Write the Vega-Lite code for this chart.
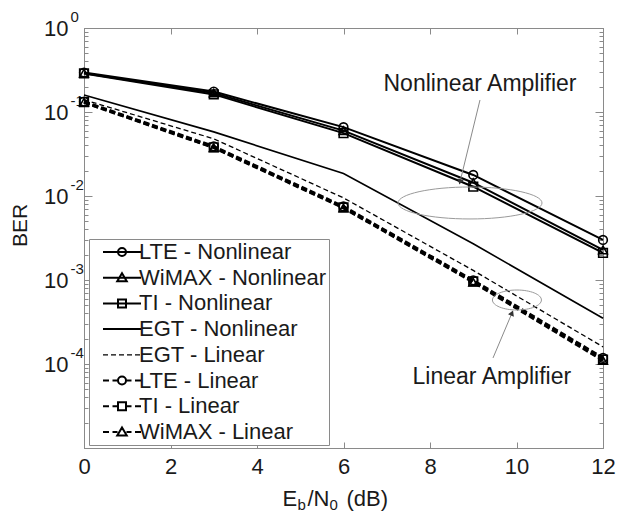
{
  "$schema": "https://vega.github.io/schema/vega-lite/v6.json",
  "width": 519,
  "height": 420,
  "autosize": "none",
  "padding": {"left": 84, "top": 28, "right": 15, "bottom": 64},
  "background": "white",
  "config": {
    "font": "Liberation Sans",
    "view": {"stroke": "#8a8a8a", "strokeWidth": 1},
    "axis": {"grid": false, "domainColor": "#8a8a8a", "tickColor": "#8a8a8a", "labelColor": "#1a1a1a", "titleColor": "#1a1a1a", "labelFont": "Liberation Sans", "titleFont": "Liberation Sans", "titleFontWeight": "normal"}
  },
  "datasets": {
    "curves": [
      {"series": "LTE - Nonlinear", "kind": "nlm", "ebn0": 0, "ber": 0.295},
      {"series": "LTE - Nonlinear", "kind": "nlm", "ebn0": 3, "ber": 0.175},
      {"series": "LTE - Nonlinear", "kind": "nlm", "ebn0": 6, "ber": 0.066},
      {"series": "LTE - Nonlinear", "kind": "nlm", "ebn0": 9, "ber": 0.0178},
      {"series": "LTE - Nonlinear", "kind": "nlm", "ebn0": 12, "ber": 0.0030},
      {"series": "WiMAX - Nonlinear", "kind": "nlm", "ebn0": 0, "ber": 0.29},
      {"series": "WiMAX - Nonlinear", "kind": "nlm", "ebn0": 3, "ber": 0.168},
      {"series": "WiMAX - Nonlinear", "kind": "nlm", "ebn0": 6, "ber": 0.060},
      {"series": "WiMAX - Nonlinear", "kind": "nlm", "ebn0": 9, "ber": 0.0144},
      {"series": "WiMAX - Nonlinear", "kind": "nlm", "ebn0": 12, "ber": 0.00228},
      {"series": "TI - Nonlinear", "kind": "nlm", "ebn0": 0, "ber": 0.288},
      {"series": "TI - Nonlinear", "kind": "nlm", "ebn0": 3, "ber": 0.162},
      {"series": "TI - Nonlinear", "kind": "nlm", "ebn0": 6, "ber": 0.056},
      {"series": "TI - Nonlinear", "kind": "nlm", "ebn0": 9, "ber": 0.0129},
      {"series": "TI - Nonlinear", "kind": "nlm", "ebn0": 12, "ber": 0.0021},
      {"series": "EGT - Nonlinear", "kind": "egtnl", "ebn0": 0, "ber": 0.159},
      {"series": "EGT - Nonlinear", "kind": "egtnl", "ebn0": 3, "ber": 0.058},
      {"series": "EGT - Nonlinear", "kind": "egtnl", "ebn0": 6, "ber": 0.0185},
      {"series": "EGT - Nonlinear", "kind": "egtnl", "ebn0": 9, "ber": 0.0027},
      {"series": "EGT - Nonlinear", "kind": "egtnl", "ebn0": 12, "ber": 0.00035},
      {"series": "EGT - Linear", "kind": "egtl", "ebn0": 0, "ber": 0.14},
      {"series": "EGT - Linear", "kind": "egtl", "ebn0": 3, "ber": 0.048},
      {"series": "EGT - Linear", "kind": "egtl", "ebn0": 6, "ber": 0.0095},
      {"series": "EGT - Linear", "kind": "egtl", "ebn0": 9, "ber": 0.0013},
      {"series": "EGT - Linear", "kind": "egtl", "ebn0": 12, "ber": 0.00016},
      {"series": "LTE - Linear", "kind": "lm", "ebn0": 0, "ber": 0.133},
      {"series": "LTE - Linear", "kind": "lm", "ebn0": 3, "ber": 0.039},
      {"series": "LTE - Linear", "kind": "lm", "ebn0": 6, "ber": 0.0075},
      {"series": "LTE - Linear", "kind": "lm", "ebn0": 9, "ber": 0.00099},
      {"series": "LTE - Linear", "kind": "lm", "ebn0": 12, "ber": 0.000118},
      {"series": "TI - Linear", "kind": "lm", "ebn0": 0, "ber": 0.131},
      {"series": "TI - Linear", "kind": "lm", "ebn0": 3, "ber": 0.038},
      {"series": "TI - Linear", "kind": "lm", "ebn0": 6, "ber": 0.0073},
      {"series": "TI - Linear", "kind": "lm", "ebn0": 9, "ber": 0.00096},
      {"series": "TI - Linear", "kind": "lm", "ebn0": 12, "ber": 0.000113},
      {"series": "WiMAX - Linear", "kind": "lm", "ebn0": 0, "ber": 0.13},
      {"series": "WiMAX - Linear", "kind": "lm", "ebn0": 3, "ber": 0.0375},
      {"series": "WiMAX - Linear", "kind": "lm", "ebn0": 6, "ber": 0.0072},
      {"series": "WiMAX - Linear", "kind": "lm", "ebn0": 9, "ber": 0.00094},
      {"series": "WiMAX - Linear", "kind": "lm", "ebn0": 12, "ber": 0.00011}
    ],
    "notes": [
      {"label": "Nonlinear Amplifier", "x": 9.156, "y": 0.215},
      {"label": "Linear Amplifier", "x": 9.43, "y": 0.00007}
    ],
    "ellipses": [
      {"name": "Nonlinear", "x": 8.925, "y": 0.00826},
      {"name": "Linear", "x": 10.01, "y": 0.000578}
    ],
    "arrows": [
      {"name": "Nonlinear", "x": 9.156, "y": 0.139, "x2": 8.694, "y2": 0.0147},
      {"name": "Linear", "x": 9.457, "y": 0.000118, "x2": 9.896, "y2": 0.000405}
    ]
  },
  "layer": [
    {
      "data": {"name": "curves"},
      "transform": [{"filter": "datum.kind == 'nlm'"}],
      "mark": {"type": "line", "strokeWidth": 2},
      "encoding": {
        "x": {"field": "ebn0", "type": "quantitative", "scale": {"domain": [0, 12], "nice": false},
          "axis": {"orient": "bottom", "values": [0, 2, 4, 6, 8, 10, 12], "tickSize": -6, "labelPadding": 14, "labelFontSize": 22, "labelFlush": false, "labelBaseline": "top",
            "title": "E", "titleX": 198, "titleY": 57, "titleAlign": "left", "titleBaseline": "alphabetic", "titleFontSize": 22}},
        "y": {"field": "ber", "type": "quantitative", "scale": {"type": "log", "domain": [0.00001, 1], "nice": false},
          "axis": {"orient": "left",
            "values": [0.00001,0.00002,0.00003,0.00004,0.00005,0.00006,0.00007,0.00008,0.00009,0.0001,0.0002,0.0003,0.0004,0.0005,0.0006,0.0007,0.0008,0.0009,0.001,0.002,0.003,0.004,0.005,0.006,0.007,0.008,0.009,0.01,0.02,0.03,0.04,0.05,0.06,0.07,0.08,0.09,0.1,0.2,0.3,0.4,0.5,0.6,0.7,0.8,0.9,1],
            "tickSize": {"condition": {"test": "abs(log(datum.value)/LN10 - round(log(datum.value)/LN10)) < 0.001", "value": -8}, "value": -4},
            "labelExpr": "abs(log(datum.value)/LN10 - round(log(datum.value)/LN10)) < 0.001 && datum.value > 0.00002 ? '10' : ''",
            "labelFontSize": 22, "labelPadding": 24, "labelOverlap": false, "labelBound": false, "labelFlush": false,
            "title": "BER", "titleX": -64, "titleY": 197, "titleAngle": -90, "titleAlign": "center", "titleBaseline": "middle", "titleFontSize": 21}},
        "color": {"field": "series", "type": "nominal",
          "scale": {"domain": ["LTE - Nonlinear", "WiMAX - Nonlinear", "TI - Nonlinear", "EGT - Nonlinear", "EGT - Linear", "LTE - Linear", "TI - Linear", "WiMAX - Linear"],
            "range": ["#000000", "#000000", "#000000", "#000000", "#000000", "#000000", "#000000", "#000000"]},
          "legend": {"orient": "none", "legendX": 5, "legendY": 211, "title": null, "padding": 2, "symbolOffset": 6, "labelOffset": 20,
            "labelFontSize": 22, "labelFont": "Liberation Sans", "labelColor": "#1a1a1a", "labelLimit": 400, "rowPadding": 3.7,
            "strokeColor": "#8a8a8a", "fillColor": "white", "symbolSize": 100,
            "encode": {"symbols": {"update": {
              "shape": {"signal": "datum.value == 'LTE - Nonlinear' ? 'M-1,0H6.6M2,0A0.8,0.8 0 1,1 3.6,0A0.8,0.8 0 1,1 2,0' : datum.value == 'WiMAX - Nonlinear' ? 'M-1,0H6.6M2.8,-0.9L3.75,0.7H1.85Z' : datum.value == 'TI - Nonlinear' ? 'M-1,0H6.6M2,-0.8H3.6V0.8H2Z' : datum.value == 'EGT - Nonlinear' ? 'M-1,0H6.6' : datum.value == 'EGT - Linear' ? 'M-1,0H0M0.6,0H1.6M2.2,0H3.2M3.8,0H4.8M5.4,0H6.4' : datum.value == 'LTE - Linear' ? 'M-1,0H0.2M0.9,0H2M2,0A0.8,0.8 0 1,1 3.6,0A0.8,0.8 0 1,1 2,0M3.6,0H4.7M5.4,0H6.6' : datum.value == 'TI - Linear' ? 'M-1,0H0.2M0.9,0H2M2,-0.8H3.6V0.8H2ZM3.6,0H4.7M5.4,0H6.6' : 'M-1,0H0.2M0.9,0H1.9M2.8,-0.9L3.75,0.7H1.85ZM3.7,0H4.7M5.4,0H6.6'"},
              "stroke": {"value": "#000000"},
              "strokeDash": {"value": []},
              "fill": {"value": "transparent"},
              "strokeWidth": {"signal": "datum.value == 'EGT - Linear' ? 1.3 : 2"},
              "size": {"value": 100}
            }}}}
        }
      }
    },
    {
      "data": {"name": "curves"},
      "transform": [{"filter": "datum.kind == 'egtnl'"}],
      "mark": {"type": "line", "strokeWidth": 1.6, "color": "#000000"},
      "encoding": {
        "x": {"field": "ebn0", "type": "quantitative",
          "axis": {"orient": "bottom", "labels": false, "ticks": false, "domain": false, "title": "b", "titleX": 213, "titleY": 61, "titleAlign": "left", "titleBaseline": "alphabetic", "titleFontSize": 15}},
        "y": {"field": "ber", "type": "quantitative", "axis": null},
        "detail": {"field": "series"}
      }
    },
    {
      "data": {"name": "curves"},
      "transform": [{"filter": "datum.kind == 'egtl'"}],
      "mark": {"type": "line", "strokeWidth": 1.3, "strokeDash": [5, 3], "color": "#000000"},
      "encoding": {
        "x": {"field": "ebn0", "type": "quantitative",
          "axis": {"orient": "bottom", "labels": false, "ticks": false, "domain": false, "title": "/N", "titleX": 223, "titleY": 57, "titleAlign": "left", "titleBaseline": "alphabetic", "titleFontSize": 22}},
        "y": {"field": "ber", "type": "quantitative",
          "axis": {"orient": "left", "values": [0.0001, 0.001, 0.01, 0.1, 1], "ticks": false, "domain": false, "labelAlign": "left", "labelPadding": 14, "labelOffset": -12, "labelFontSize": 15, "labelOverlap": false, "labelBound": false, "labelFlush": false,
            "labelExpr": "round(log(datum.value)/LN10) == 0 ? '0' : '-' + abs(round(log(datum.value)/LN10))", "title": null}},
        "detail": {"field": "series"}
      }
    },
    {
      "data": {"name": "curves"},
      "transform": [{"filter": "datum.kind == 'lm'"}],
      "mark": {"type": "line", "strokeWidth": 2.8, "strokeDash": [6, 3], "color": "#000000"},
      "encoding": {
        "x": {"field": "ebn0", "type": "quantitative",
          "axis": {"orient": "bottom", "labels": false, "ticks": false, "domain": false, "title": "0", "titleX": 245, "titleY": 61, "titleAlign": "left", "titleBaseline": "alphabetic", "titleFontSize": 15}},
        "y": {"field": "ber", "type": "quantitative",
          "axis": {"orient": "right", "labels": false, "title": null,
            "values": [0.00001,0.00002,0.00003,0.00004,0.00005,0.00006,0.00007,0.00008,0.00009,0.0001,0.0002,0.0003,0.0004,0.0005,0.0006,0.0007,0.0008,0.0009,0.001,0.002,0.003,0.004,0.005,0.006,0.007,0.008,0.009,0.01,0.02,0.03,0.04,0.05,0.06,0.07,0.08,0.09,0.1,0.2,0.3,0.4,0.5,0.6,0.7,0.8,0.9,1],
            "tickSize": {"condition": {"test": "abs(log(datum.value)/LN10 - round(log(datum.value)/LN10)) < 0.001", "value": -8}, "value": -4}}},
        "detail": {"field": "series"}
      }
    },
    {
      "data": {"name": "curves"},
      "transform": [{"filter": "datum.kind == 'nlm' || datum.kind == 'lm'"}],
      "mark": {"type": "point", "filled": false, "color": "#000000", "strokeWidth": 1.6, "size": 75, "opacity": 1},
      "encoding": {
        "x": {"field": "ebn0", "type": "quantitative",
          "axis": {"orient": "top", "labels": false, "title": null, "values": [0, 2, 4, 6, 8, 10, 12], "tickSize": -6}},
        "y": {"field": "ber", "type": "quantitative", "axis": null},
        "shape": {"field": "series", "type": "nominal",
          "scale": {"domain": ["LTE - Nonlinear", "WiMAX - Nonlinear", "TI - Nonlinear", "LTE - Linear", "TI - Linear", "WiMAX - Linear"],
            "range": ["circle", "triangle-up", "square", "circle", "square", "triangle-up"]},
          "legend": null}
      }
    },
    {
      "data": {"name": "notes"},
      "mark": {"type": "text", "fontSize": 23, "font": "Liberation Sans", "color": "#1a1a1a", "align": "center", "baseline": "middle"},
      "encoding": {
        "x": {"field": "x", "type": "quantitative",
          "axis": {"orient": "bottom", "labels": false, "ticks": false, "domain": false, "title": "(dB)", "titleX": 262, "titleY": 57, "titleAlign": "left", "titleBaseline": "alphabetic", "titleFontSize": 22}},
        "y": {"field": "y", "type": "quantitative", "axis": null},
        "text": {"field": "label"}
      }
    },
    {
      "data": {"name": "ellipses"},
      "transform": [{"filter": "datum.name == 'Nonlinear'"}],
      "mark": {"type": "point", "filled": false, "shape": "M-1,0A1,0.222 0 1,0 1,0A1,0.222 0 1,0 -1,0", "size": 20736, "color": "#9a9a9a", "strokeWidth": 1, "opacity": 1},
      "encoding": {
        "x": {"field": "x", "type": "quantitative", "axis": null},
        "y": {"field": "y", "type": "quantitative", "axis": null}
      }
    },
    {
      "data": {"name": "ellipses"},
      "transform": [{"filter": "datum.name == 'Linear'"}],
      "mark": {"type": "point", "filled": false, "shape": "M-1,0A1,0.408 0 1,0 1,0A1,0.408 0 1,0 -1,0", "size": 2401, "color": "#9a9a9a", "strokeWidth": 1, "opacity": 1},
      "encoding": {
        "x": {"field": "x", "type": "quantitative", "axis": null},
        "y": {"field": "y", "type": "quantitative", "axis": null}
      }
    },
    {
      "data": {"name": "arrows"},
      "mark": {"type": "rule", "color": "#8a8a8a", "strokeWidth": 1},
      "encoding": {
        "x": {"field": "x", "type": "quantitative", "axis": null},
        "y": {"field": "y", "type": "quantitative", "axis": null},
        "x2": {"field": "x2"},
        "y2": {"field": "y2"}
      }
    },
    {
      "data": {"name": "arrows"},
      "transform": [{"filter": "datum.name == 'Nonlinear'"}],
      "mark": {"type": "point", "shape": "triangle-up", "filled": true, "color": "#333333", "size": 40, "angle": 194, "opacity": 1},
      "encoding": {
        "x": {"field": "x2", "type": "quantitative", "axis": null},
        "y": {"field": "y2", "type": "quantitative", "axis": null}
      }
    },
    {
      "data": {"name": "arrows"},
      "transform": [{"filter": "datum.name == 'Linear'"}],
      "mark": {"type": "point", "shape": "triangle-up", "filled": true, "color": "#333333", "size": 40, "angle": 23, "opacity": 1},
      "encoding": {
        "x": {"field": "x2", "type": "quantitative", "axis": null},
        "y": {"field": "y2", "type": "quantitative", "axis": null}
      }
    }
  ],
  "resolve": {"axis": {"x": "independent", "y": "independent"}}
}
